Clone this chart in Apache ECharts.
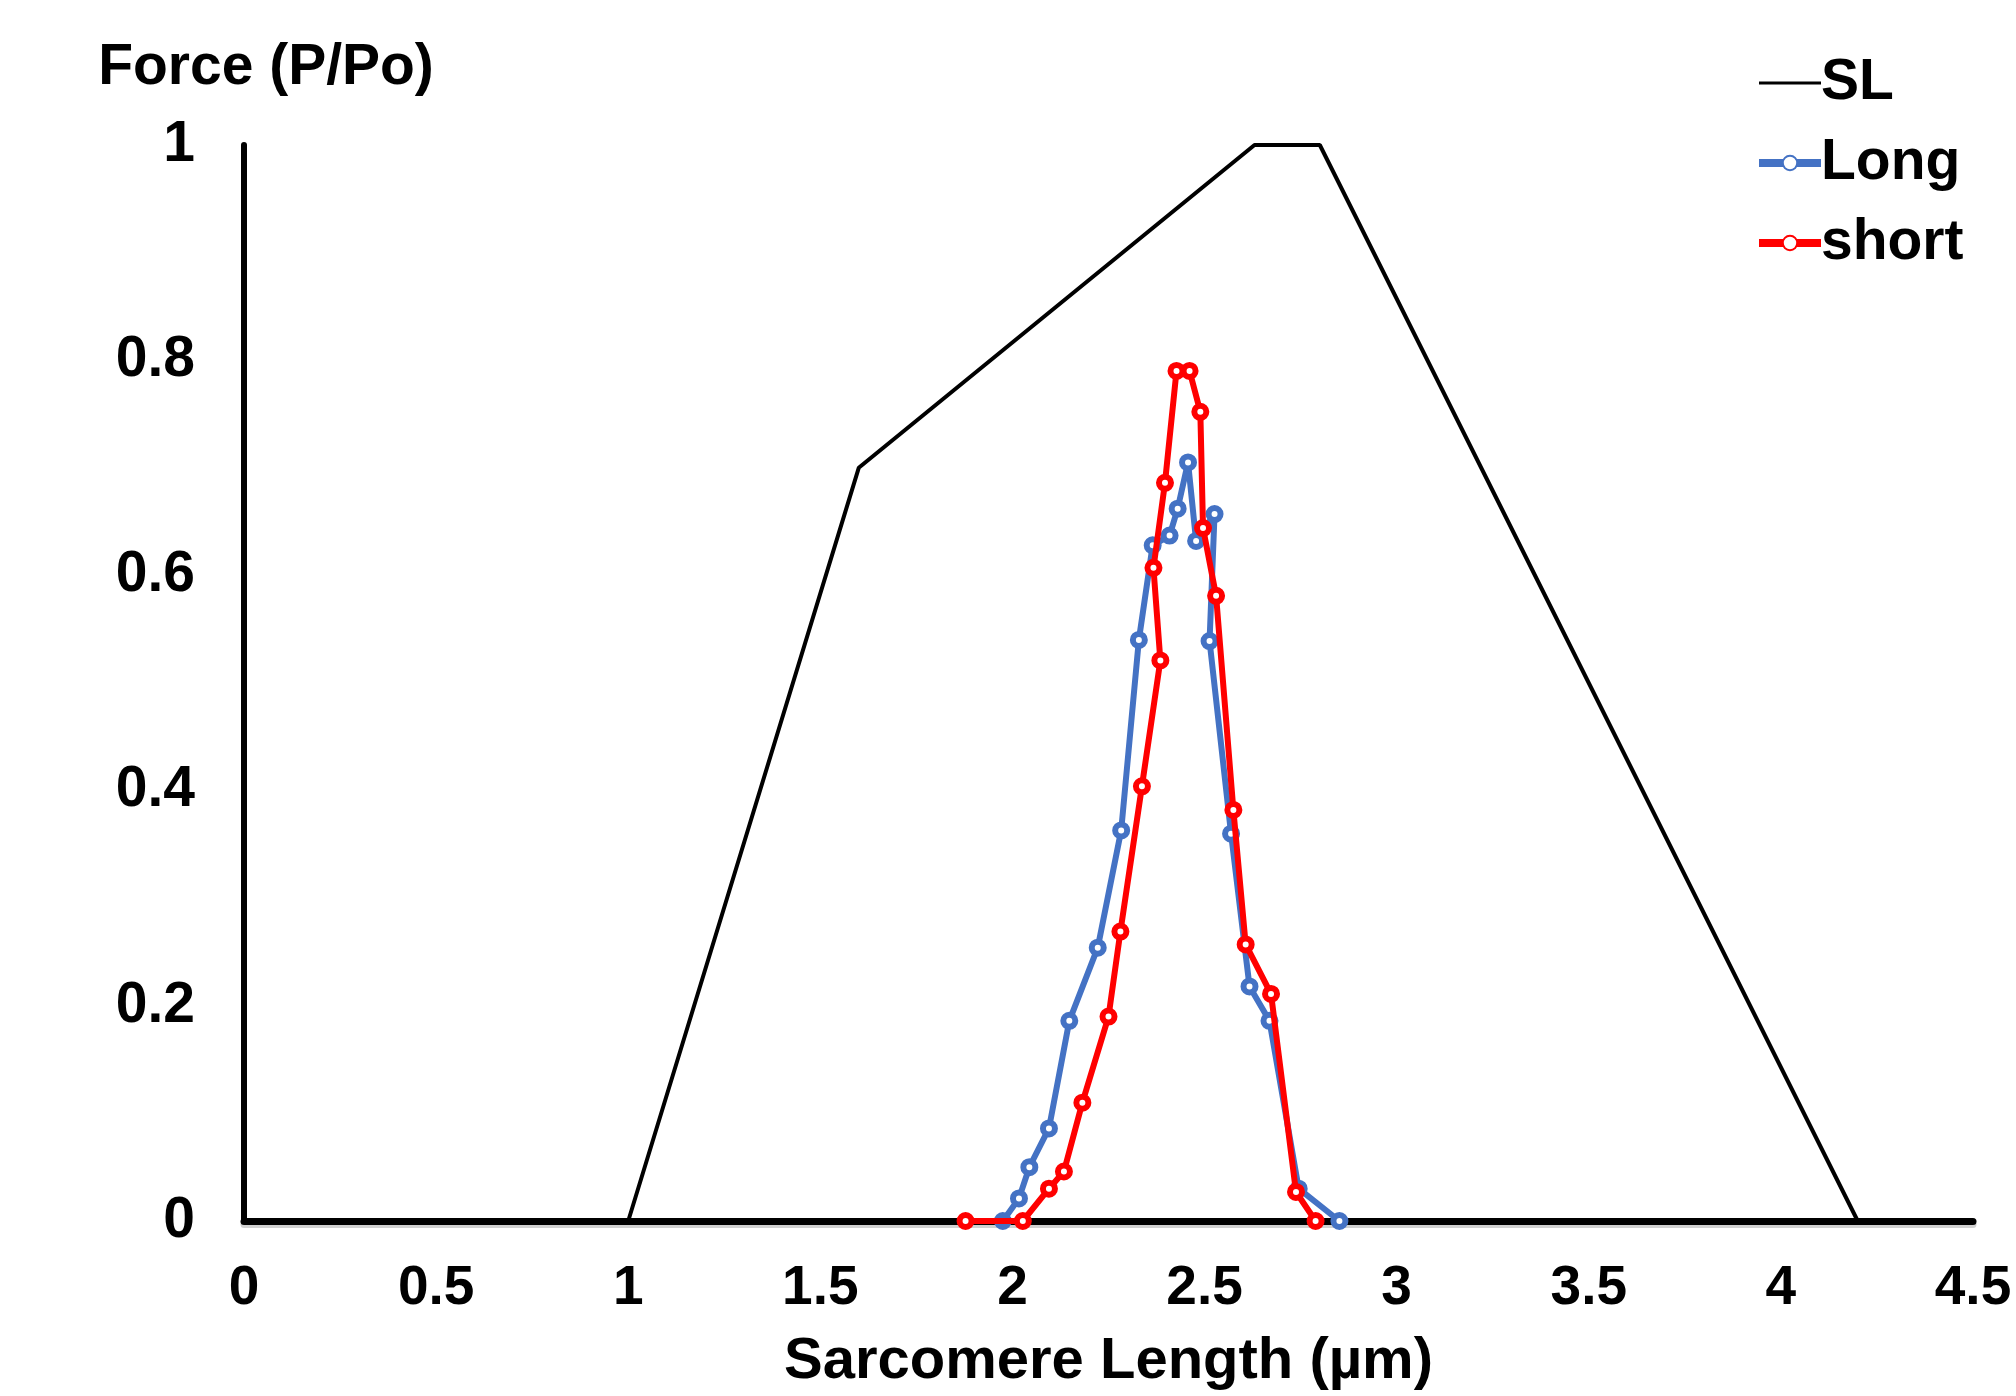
<!DOCTYPE html>
<html>
<head>
<meta charset="utf-8">
<script src="https://cdn.jsdelivr.net/npm/echarts@6/dist/echarts.min.js"></script>
<style>html,body{margin:0;padding:0;background:#fff;overflow:hidden;}#c{width:2016px;height:1396px;}</style>
</head>
<body>
<div id="c"></div>
<script>
// Sarcomere force-length relationship (SL)
const slX = [1.0, 1.6, 2.63, 2.8, 4.2];
const slY = [0.0, 0.70, 1.0, 1.0, 0.0];

// Long
const longX = [1.975, 2.017, 2.044, 2.095, 2.148, 2.222, 2.283, 2.329, 2.365, 2.409, 2.430, 2.457, 2.478, 2.526, 2.513, 2.569, 2.617, 2.669, 2.745, 2.851];
const longY = [0.000, 0.021, 0.050, 0.086, 0.186, 0.254, 0.363, 0.540, 0.628, 0.637, 0.662, 0.705, 0.632, 0.657, 0.539, 0.360, 0.218, 0.186, 0.030, 0.000];

// short
const shortX = [1.878, 2.027, 2.095, 2.134, 2.182, 2.250, 2.281, 2.337, 2.385, 2.367, 2.397, 2.427, 2.461, 2.489, 2.496, 2.530, 2.575, 2.607, 2.673, 2.738, 2.789];
const shortY = [0.000, 0.000, 0.030, 0.046, 0.110, 0.190, 0.269, 0.404, 0.521, 0.607, 0.686, 0.790, 0.790, 0.752, 0.644, 0.581, 0.382, 0.257, 0.211, 0.027, 0.000];

const xTicks = { min: 0, max: 4.5, interval: 0.5 };
const yTicks = { min: 0, max: 1, interval: 0.2 };

const zip = (xs, ys) => xs.map((x, i) => [x, ys[i]]);
const FONT = '"Liberation Sans", Arial, sans-serif';
const BLUE = '#4472C4';
const RED = '#FF0000';

const chart = echarts.init(document.getElementById('c'), null, { renderer: 'canvas' });
chart.setOption({
  animation: false,
  backgroundColor: '#fff',
  grid: { left: 244, right: 43, top: 145, bottom: 168, containLabel: false },
  legend: {
    orient: 'vertical',
    left: 1750,
    top: 48,
    itemWidth: 62,
    itemHeight: 18,
    itemGap: 20,
    textStyle: { fontFamily: FONT, fontWeight: 'bold', fontSize: 57, color: '#000', lineHeight: 60, padding: [0,0,0,-5] },
    data: [
      { name: 'SL', itemStyle: { color: 'rgba(0,0,0,0)', borderWidth: 0 }, lineStyle: { width: 3 } },
      { name: 'Long', lineStyle: { width: 8 } },
      { name: 'short', lineStyle: { width: 8 } }
    ]
  },
  xAxis: {
    type: 'value',
    min: xTicks.min, max: xTicks.max, interval: xTicks.interval,
    name: 'Sarcomere Length (µm)',
    nameLocation: 'middle',
    nameGap: 112,
    nameTextStyle: { fontFamily: FONT, fontWeight: 'bold', fontSize: 58, color: '#000' },
    axisLine: { onZero: false, lineStyle: { color: '#000', width: 7, shadowColor: 'rgba(0,0,0,0.18)', shadowOffsetY: 3 } },
    axisTick: { show: false },
    splitLine: { show: false },
    axisLabel: { fontFamily: FONT, fontWeight: 'bold', fontSize: 55, color: '#000', margin: 40 }
  },
  yAxis: {
    type: 'value',
    min: yTicks.min, max: yTicks.max, interval: yTicks.interval,
    name: 'Force (P/Po)',
    nameLocation: 'end',
    nameGap: 48,
    nameTextStyle: { fontFamily: FONT, fontWeight: 'bold', fontSize: 57, color: '#000', align: 'center', padding: [0, 0, 0, 44] },
    axisLine: { show: true, onZero: false, lineStyle: { color: '#000', width: 6 } },
    axisTick: { show: false },
    splitLine: { show: false },
    axisLabel: { fontFamily: FONT, fontWeight: 'bold', fontSize: 57, color: '#000', margin: 49 }
  },
  series: [
    {
      name: 'SL', type: 'line', data: zip(slX, slY),
      showSymbol: false, symbol: 'none',
      color: '#000',
      lineStyle: { color: '#000', width: 4 },
      emphasis: { disabled: true }, z: 2
    },
    {
      name: 'Long', type: 'line', data: zip(longX, longY),
      symbol: 'circle', symbolSize: 12, showAllSymbol: true,
      color: BLUE,
      lineStyle: { color: BLUE, width: 6 },
      itemStyle: { color: '#fff', borderColor: BLUE, borderWidth: 6 },
      emphasis: { disabled: true }, z: 3
    },
    {
      name: 'short', type: 'line', data: zip(shortX, shortY),
      symbol: 'circle', symbolSize: 12, showAllSymbol: true,
      color: RED,
      lineStyle: { color: RED, width: 6 },
      itemStyle: { color: '#fff', borderColor: RED, borderWidth: 6 },
      emphasis: { disabled: true }, z: 4
    }
  ]
});
</script>
</body>
</html>
